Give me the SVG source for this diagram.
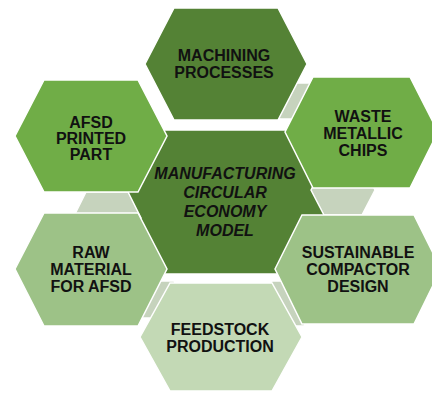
<svg xmlns="http://www.w3.org/2000/svg" width="432" height="394" viewBox="0 0 432 394">
  <style>
    .hex { stroke: #ffffff; stroke-width: 1.5; stroke-linejoin: miter; }
    .dark { fill: #548235; }
    .mid { fill: #70ad47; }
    .light { fill: #9dc287; }
    .pale { fill: #c3d9b5; }
    .link { fill: #c6d3bd; }
    .label { font-family: "Liberation Sans", Arial, sans-serif; font-weight: bold; font-size: 16px; fill: #111111; text-anchor: middle; }
    .hub { font-style: italic; }
  </style>
  <rect width="432" height="394" fill="#ffffff"/>

  <!-- central hexagon -->
  <g id="hub">
    <polygon class="hex dark" points="114,202 154,130 294,130 334,202 294,274 154,274"/>
  </g>

  <!-- small linking hexagons between neighbouring outer cells -->
  <g id="connectors">
    <polygon class="hex link" points="270,101 280,83 312,83 322,101 312,119 280,119"/>
    <polygon class="hex link" points="311,190 324,165 362,165 375,190 362,215 324,215"/>
    <polygon class="hex link" points="260,303 272,281 304,281 316,303 304,326 272,326"/>
    <polygon class="hex link" points="132,300 142,281 174,281 184,300 174,318 142,318"/>
    <polygon class="hex link" points="73,218 86,192 128,192 141,218 128,244 86,244"/>
  </g>

  <g id="machining">
    <polygon class="hex dark" points="145,64 174,8 278,8 307,64 278,120 174,120"/>
    <text class="label" x="224" y="61">MACHINING</text>
    <text class="label" x="224" y="78">PROCESSES</text>
  </g>

  <g id="waste">
    <polygon class="hex mid" points="285,132 313,77 410,77 438,132 410,188 313,188"/>
    <text class="label" x="363" y="122">WASTE</text>
    <text class="label" x="363" y="139">METALLIC</text>
    <text class="label" x="363" y="156">CHIPS</text>
  </g>

  <g id="compactor">
    <polygon class="hex light" points="275,269 302,215 414,215 441,269 414,324 302,324"/>
    <text class="label" x="358" y="258">SUSTAINABLE</text>
    <text class="label" x="358" y="275">COMPACTOR</text>
    <text class="label" x="358" y="292">DESIGN</text>
  </g>

  <g id="feedstock">
    <polygon class="hex pale" points="140,337 170,283 272,283 302,337 272,391 170,391"/>
    <text class="label" x="220" y="335">FEEDSTOCK</text>
    <text class="label" x="220" y="352">PRODUCTION</text>
  </g>

  <g id="raw-material">
    <polygon class="hex light" points="15,269 44,213 138,213 167,269 138,326 44,326"/>
    <text class="label" x="91" y="258">RAW</text>
    <text class="label" x="91" y="275">MATERIAL</text>
    <text class="label" x="91" y="292">FOR AFSD</text>
  </g>

  <g id="afsd-part">
    <polygon class="hex mid" points="15,136 44,80 138,80 167,136 138,192 44,192"/>
    <text class="label" x="91" y="128">AFSD</text>
    <text class="label" x="91" y="144">PRINTED</text>
    <text class="label" x="91" y="160">PART</text>
  </g>

  <g id="hub-label">
    <text class="label hub" x="225" y="179">MANUFACTURING</text>
    <text class="label hub" x="225" y="198">CIRCULAR</text>
    <text class="label hub" x="225" y="217">ECONOMY</text>
    <text class="label hub" x="225" y="236">MODEL</text>
  </g>
</svg>
